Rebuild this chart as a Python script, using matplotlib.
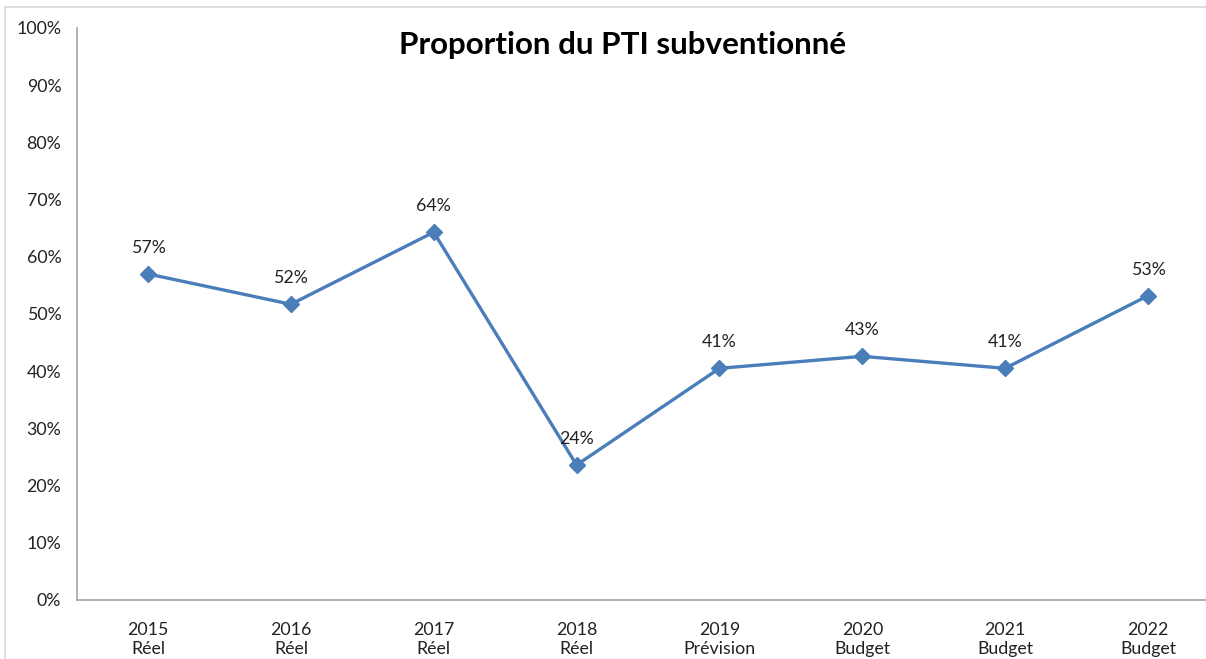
import matplotlib
matplotlib.use("Agg")
import matplotlib.pyplot as plt
from matplotlib.lines import Line2D

plt.rcParams['font.family'] = ['Lato', 'DejaVu Sans']

years = ["2015", "2016", "2017", "2018", "2019", "2020", "2021", "2022"]
kinds = ["Réel", "Réel", "Réel", "Réel", "Prévision", "Budget", "Budget", "Budget"]
values = [0.57, 0.517, 0.643, 0.236, 0.405, 0.426, 0.405, 0.532]
labels = ["57%", "52%", "64%", "24%", "41%", "43%", "41%", "53%"]
yticks = [0, 0.1, 0.2, 0.3, 0.4, 0.5, 0.6, 0.7, 0.8, 0.9, 1.0]

W, H = 1206, 659
fig = plt.figure(figsize=(W/100, H/100), dpi=100)
bc = '#d9d9d9'
fig.lines.append(Line2D([5/W, 1.0], [1 - 7/H, 1 - 7/H], transform=fig.transFigure,
                        color=bc, linewidth=1.3))
fig.lines.append(Line2D([5/W, 5/W], [0, 1 - 7/H], transform=fig.transFigure,
                        color=bc, linewidth=1.3))

ax = fig.add_axes([76.6/W, (H-600)/H, (1219.4-76.6)/W, (600-28)/H])
x = list(range(len(years)))
color = '#4a7ebb'
ax.plot(x, values, color=color, linewidth=2.4, marker='D', markersize=8.5,
        markeredgecolor=color, markerfacecolor=color, clip_on=False, zorder=3)
fs = 12.8
for xi, v, lab in zip(x, values, labels):
    ax.annotate(lab, (xi, v), xytext=(0, 13), textcoords='offset points',
                ha='center', va='bottom', fontsize=fs, color='#222222')

ax.set_xlim(-0.5, 7.5)
ax.set_ylim(0, 1)
ax.set_yticks(yticks)
ax.set_yticklabels([f"{int(round(t*100))}%" for t in yticks], fontsize=fs, color='#222222')
ax.set_xticks(x)
ax.set_xticklabels([f"{y}\n{k}" for y, k in zip(years, kinds)], fontsize=fs,
                   color='#222222', linespacing=1.25)
ax.tick_params(axis='both', length=0)
ax.tick_params(axis='y', pad=11)
ax.tick_params(axis='x', pad=16)
for s in ['top', 'right']:
    ax.spines[s].set_visible(False)
for s in ['left', 'bottom']:
    ax.spines[s].set_color('#a6a6a6')
    ax.spines[s].set_linewidth(1.2)

fig.text(623/W, 1 - 45/H, "Proportion du PTI subventionné", ha='center', va='center',
         fontsize=22.6, fontweight='bold', color='#000000')

fig.savefig("out.png", dpi=100)
